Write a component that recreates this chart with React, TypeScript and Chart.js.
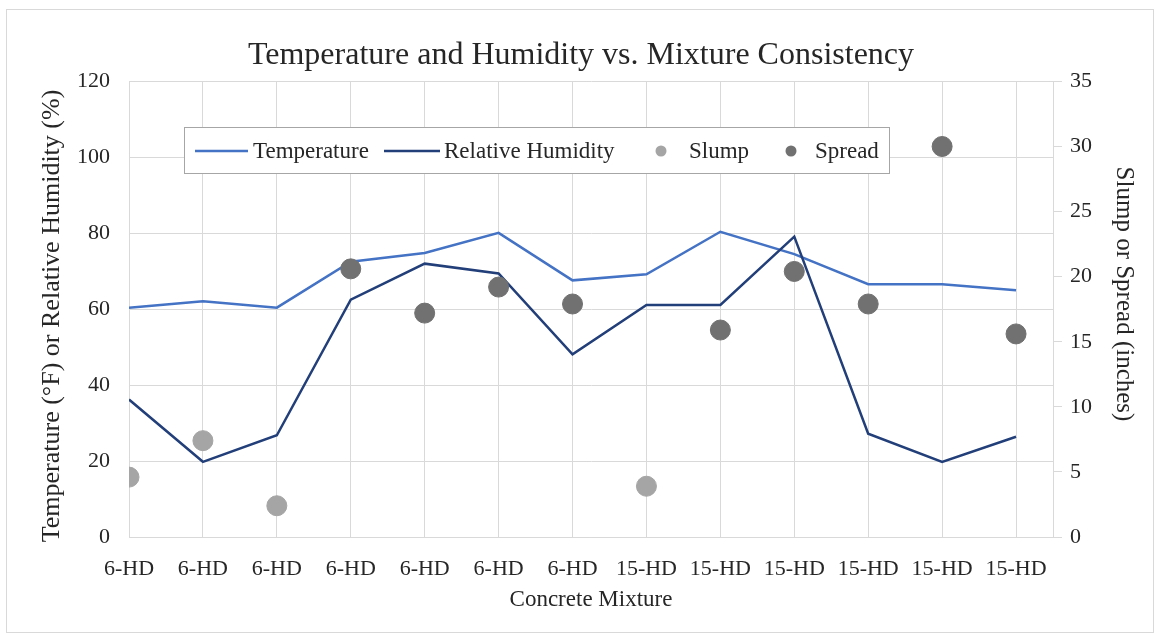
import React, { useEffect, useRef } from "react";
import { Chart, registerables } from "chart.js";

Chart.register(...registerables);

const categories = ["6-HD", "6-HD", "6-HD", "6-HD", "6-HD", "6-HD", "6-HD", "15-HD", "15-HD", "15-HD", "15-HD", "15-HD", "15-HD"];
const temperature = [60.4, 62.1, 60.4, 72.5, 74.8, 80.1, 67.6, 69.2, 80.4, 74.5, 66.6, 66.6, 65.0];
const humidity = [36.2, 19.8, 26.8, 62.5, 72.0, 69.4, 48.1, 61.1, 61.1, 79.1, 27.2, 19.8, 26.4];
const slump = [4.6, 7.4, 2.4, null, null, null, null, 3.9, null, null, null, null, null];
const spread = [null, null, null, 20.6, 17.2, 19.2, 17.9, null, 15.9, 20.4, 17.9, 30.0, 15.6];

const leftTitle = "Temperature (°F) or Relative Humidity (%)";
const rightTitle = "Slump or Spread (inches)";

const FONT = "'Liberation Serif', 'Times New Roman', serif";
const TEXT = "#262626";
const GRID = "#d9d9d9";
const C_TEMP = "#4472C4";
const C_RH = "#223F7A";
const C_SLUMP = "#A5A5A5";
const C_SPREAD = "#717171";

const toPoints = (arr: (number | null)[]) => arr.map((v, i) => ({ x: i, y: v }));

const bgPlugin = {
  id: "bgBorder",
  beforeDraw(chart: any) {
    const ctx = chart.ctx;
    ctx.save();
    ctx.fillStyle = "#ffffff";
    ctx.fillRect(0, 0, chart.width, chart.height);
    ctx.strokeStyle = "#d9d9d9";
    ctx.lineWidth = 1;
    ctx.strokeRect(6.5, 9.5, 1147, 623);
    ctx.restore();
  },
};

const axisTitlePlugin = {
  id: "axisTitles",
  afterDraw(chart: any) {
    const ctx = chart.ctx;
    ctx.save();
    ctx.fillStyle = TEXT;
    ctx.font = `26px ${FONT}`;
    ctx.textAlign = "center";
    ctx.textBaseline = "middle";
    ctx.translate(52, 316);
    ctx.rotate(-Math.PI / 2);
    ctx.fillText(leftTitle, 0, 0);
    ctx.restore();
    ctx.save();
    ctx.fillStyle = TEXT;
    ctx.font = `25px ${FONT}`;
    ctx.textAlign = "center";
    ctx.textBaseline = "middle";
    ctx.translate(1124, 294);
    ctx.rotate(Math.PI / 2);
    ctx.fillText(rightTitle, 0, 0);
    ctx.restore();
  },
};

const legendPlugin = {
  id: "insideLegend",
  afterDraw(chart: any) {
    const ctx = chart.ctx;
    const ds = chart.data.datasets;
    ctx.save();
    ctx.fillStyle = "#ffffff";
    ctx.fillRect(184.5, 127.5, 705, 46);
    ctx.strokeStyle = "#a6a6a6";
    ctx.lineWidth = 1;
    ctx.strokeRect(184.5, 127.5, 705, 46);
    const cy = 151;
    ctx.font = `23px ${FONT}`;
    ctx.textBaseline = "middle";
    ctx.textAlign = "left";
    const items = [
      { i: 2, type: "line", x0: 195, x1: 248, tx: 253 },
      { i: 3, type: "line", x0: 384, x1: 440, tx: 444 },
      { i: 0, type: "dot", x0: 661, x1: 661, tx: 689 },
      { i: 1, type: "dot", x0: 791, x1: 791, tx: 815 },
    ];
    for (const it of items) {
      const d = ds[it.i];
      if (it.type === "line") {
        ctx.strokeStyle = d.borderColor;
        ctx.lineWidth = 2.5;
        ctx.beginPath();
        ctx.moveTo(it.x0, cy);
        ctx.lineTo(it.x1, cy);
        ctx.stroke();
      } else {
        ctx.fillStyle = d.backgroundColor;
        ctx.beginPath();
        ctx.arc(it.x0, cy, 5.5, 0, Math.PI * 2);
        ctx.fill();
      }
      ctx.fillStyle = TEXT;
      ctx.fillText(d.label, it.tx, cy + 1);
    }
    ctx.restore();
  },
};

export default function App() {
  const ref = useRef<HTMLCanvasElement | null>(null);
  useEffect(() => {
    document.body.style.margin = "0";
    const canvas = ref.current;
    if (!canvas) return;
    const chart = new Chart(canvas, {
      type: "line",
      data: {
        datasets: [
          {
            type: "scatter",
            label: "Slump",
            data: toPoints(slump),
            yAxisID: "y1",
            backgroundColor: C_SLUMP,
            borderColor: C_SLUMP,
            pointRadius: 10,
            pointHoverRadius: 10,
            showLine: false,
            order: 0,
          },
          {
            type: "scatter",
            label: "Spread",
            data: toPoints(spread),
            yAxisID: "y1",
            backgroundColor: C_SPREAD,
            borderColor: C_SPREAD,
            pointRadius: 10,
            pointHoverRadius: 10,
            showLine: false,
            order: 0,
          },
          {
            type: "line",
            label: "Temperature",
            data: toPoints(temperature),
            yAxisID: "y",
            borderColor: C_TEMP,
            backgroundColor: C_TEMP,
            borderWidth: 2.5,
            pointRadius: 0,
            tension: 0,
            order: 2,
          },
          {
            type: "line",
            label: "Relative Humidity",
            data: toPoints(humidity),
            yAxisID: "y",
            borderColor: C_RH,
            backgroundColor: C_RH,
            borderWidth: 2.5,
            pointRadius: 0,
            tension: 0,
            order: 1,
          },
        ],
      },
      options: {
        responsive: false,
        animation: false,
        events: [],
        layout: { padding: 0 },
        plugins: {
          legend: { display: false },
          tooltip: { enabled: false },
          title: {
            display: true,
            text: "Temperature and Humidity vs. Mixture Consistency",
            color: TEXT,
            font: { family: FONT, size: 32, weight: "normal" },
            padding: { top: 36, bottom: 7 },
          },
        },
        scales: {
          x: {
            type: "linear",
            min: 0,
            max: 12.5,
            afterFit: (s: any) => {
              s.height = 104;
            },
            ticks: {
              stepSize: 1,
              includeBounds: false,
              autoSkip: false,
              maxRotation: 0,
              padding: 19,
              color: TEXT,
              font: { family: FONT, size: 22 },
              callback: (v: any) => (Number.isInteger(v) ? categories[v] : ""),
            },
            grid: { color: GRID, drawTicks: false, lineWidth: 1 },
            border: { display: true, color: GRID },
            title: {
              display: true,
              text: "Concrete Mixture",
              color: TEXT,
              font: { family: FONT, size: 23 },
              padding: { top: 0, bottom: 27 },
            },
          },
          y: {
            position: "left",
            min: 0,
            max: 120,
            afterFit: (s: any) => {
              s.width = 129;
            },
            ticks: {
              stepSize: 20,
              padding: 19,
              color: TEXT,
              font: { family: FONT, size: 22 },
            },
            grid: { color: GRID, drawTicks: false },
            border: { display: true, color: GRID },
          },
          y1: {
            position: "right",
            min: 0,
            max: 35,
            afterFit: (s: any) => {
              s.width = 109;
            },
            ticks: {
              stepSize: 5,
              padding: 8,
              color: TEXT,
              font: { family: FONT, size: 22 },
            },
            grid: { drawOnChartArea: false, drawTicks: true, tickLength: 9, color: GRID },
            border: { display: true, color: GRID },
          },
        },
      },
      plugins: [bgPlugin, axisTitlePlugin, legendPlugin],
    } as any);
    return () => chart.destroy();
  }, []);
  return (
    <div style={{ position: "absolute", left: 0, top: 0, width: 1162, height: 641 }}>
      <canvas ref={ref} width={1162} height={641} />
    </div>
  );
}
